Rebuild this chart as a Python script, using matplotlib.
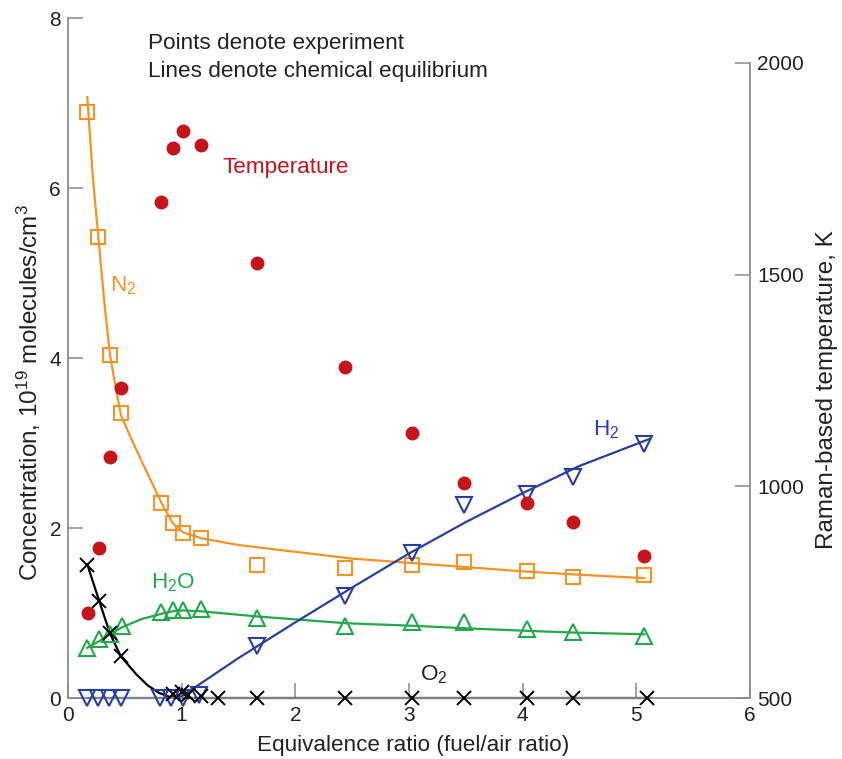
import matplotlib
matplotlib.use("Agg")
import matplotlib.pyplot as plt

plt.rcParams['font.family'] = ['Liberation Sans', 'DejaVu Sans']
plt.rcParams['mathtext.fontset'] = 'custom'
plt.rcParams['mathtext.rm'] = 'Liberation Sans'
plt.rcParams['mathtext.it'] = 'Liberation Sans:italic'
plt.rcParams['mathtext.bf'] = 'Liberation Sans:bold'

# ---- data ----
# N2 experiment (squares) and equilibrium line
n2_x = [0.17, 0.267, 0.369, 0.465, 0.82, 0.92, 1.01, 1.17, 1.66, 2.44, 3.03, 3.48, 4.04, 4.44, 5.07]
n2_y = [6.90, 5.42, 4.04, 3.35, 2.30, 2.06, 1.94, 1.88, 1.57, 1.53, 1.57, 1.60, 1.50, 1.42, 1.45]
n2_line_x = [0.17, 0.22, 0.267, 0.32, 0.369, 0.42, 0.465, 0.55, 0.65, 0.75, 0.82, 0.92, 1.01, 1.17, 1.5, 2.0, 2.5, 3.0, 3.5, 4.0, 4.5, 5.07]
n2_line_y = [7.07, 6.10, 5.42, 4.65, 4.04, 3.65, 3.33, 3.07, 2.78, 2.50, 2.30, 2.06, 1.95, 1.88, 1.80, 1.72, 1.64, 1.59, 1.54, 1.49, 1.45, 1.41]

# H2O experiment (up triangles) and equilibrium line
h2o_x = [0.17, 0.275, 0.369, 0.472, 0.82, 0.92, 1.01, 1.17, 1.66, 2.44, 3.03, 3.48, 4.04, 4.44, 5.07]
h2o_y = [0.59, 0.69, 0.755, 0.85, 1.01, 1.03, 1.04, 1.05, 0.94, 0.85, 0.90, 0.90, 0.81, 0.78, 0.73]
h2o_line_x = [0.17, 0.275, 0.369, 0.472, 0.65, 0.82, 0.92, 1.01, 1.17, 1.66, 2.44, 3.03, 3.5, 4.04, 4.44, 5.07]
h2o_line_y = [0.59, 0.67, 0.75, 0.83, 0.93, 0.99, 1.02, 1.03, 1.02, 0.96, 0.88, 0.85, 0.82, 0.79, 0.77, 0.75]

# H2 experiment (down triangles) and equilibrium line
h2_x = [0.17, 0.267, 0.363, 0.463, 0.81, 0.91, 1.01, 1.155, 1.66, 2.44, 3.03, 3.48, 4.04, 4.44, 5.07]
h2_y = [0.0, 0.0, 0.0, 0.0, 0.0, 0.0, 0.0, 0.03, 0.61, 1.20, 1.71, 2.27, 2.40, 2.60, 2.99]
h2_line_x = [0.17, 0.5, 0.9, 1.0, 1.5, 2.0, 2.5, 3.0, 3.5, 4.0, 4.5, 5.12]
h2_line_y = [0.0, 0.0, 0.0, 0.02, 0.47, 0.89, 1.30, 1.70, 2.07, 2.41, 2.73, 3.05]

# O2 experiment (crosses) and equilibrium line
o2_x = [0.17, 0.275, 0.369, 0.465, 0.92, 1.0, 1.06, 1.17, 1.32, 1.66, 2.44, 3.03, 3.48, 4.04, 4.44, 5.09]
o2_y = [1.57, 1.14, 0.76, 0.49, 0.05, 0.07, 0.03, 0.02, 0.0, 0.0, 0.0, 0.0, 0.0, 0.0, 0.0, 0.0]
o2_line_x = [0.17, 0.275, 0.369, 0.465, 0.6, 0.7, 0.8, 0.9, 1.0, 2.0, 3.0, 4.0, 5.12]
o2_line_y = [1.57, 1.14, 0.76, 0.49, 0.28, 0.15, 0.06, 0.01, 0.0, 0.0, 0.0, 0.0, 0.0]

# Temperature experiment (right axis, K)
t_x = [0.179, 0.275, 0.369, 0.466, 0.815, 0.92, 1.01, 1.17, 1.665, 2.44, 3.03, 3.48, 4.04, 4.44, 5.07]
t_y = [700, 854, 1070, 1231, 1672, 1798, 1838, 1806, 1528, 1281, 1125, 1007, 961, 916, 835]

x_ticks = [0, 1, 2, 3, 4, 5, 6]
y_ticks = [0, 2, 4, 6, 8]
t_ticks = [500, 1000, 1500, 2000]

ORANGE = '#F39325'
GREEN = '#22A84A'
BLUE = '#2A3F9D'
RED = '#C4141C'
SPINE = '#8C8C8C'
TXT = '#222222'

W, H = 842, 759
fig = plt.figure(figsize=(W / 100, H / 100), dpi=100)
ax = fig.add_axes([68 / W, 61 / H, 682 / W, 680 / H])
ax2 = ax.twinx()

fs = 15      # tick labels
fsa = 16.2   # annotations
fsl = 17.5   # rotated axis labels
lw = 1.6

# lines
ax.plot(n2_line_x, n2_line_y, color=ORANGE, lw=lw, zorder=2, clip_on=False)
ax.plot(h2o_line_x, h2o_line_y, color=GREEN, lw=lw, zorder=2, clip_on=False)
ax.plot(h2_line_x, h2_line_y, color=BLUE, lw=lw, zorder=2, clip_on=False)
ax.plot(o2_line_x, o2_line_y, color='black', lw=lw, zorder=2, clip_on=False)

# points
ax.plot(n2_x, n2_y, ls='none', marker='s', ms=10.5, mfc='none', mec=ORANGE, mew=1.5, zorder=3, clip_on=False)
ax.plot(h2o_x, h2o_y, ls='none', marker='^', ms=11, mfc='none', mec=GREEN, mew=1.5, zorder=3, clip_on=False)
ax.plot(h2_x, h2_y, ls='none', marker='v', ms=11, mfc='none', mec=BLUE, mew=1.5, zorder=3, clip_on=False)
ax.plot(o2_x, o2_y, ls='none', marker='x', ms=10, mec='black', mew=1.4, zorder=3, clip_on=False)
ax2.plot(t_x, t_y, ls='none', marker='o', ms=9, mfc=RED, mec=RED, zorder=3, clip_on=False)

# axes limits / spines
ax.set_xlim(0, 6)
ax.set_ylim(0, 8)
ax2.set_ylim(500, 2106)
for a in (ax, ax2):
    a.spines['top'].set_visible(False)
    a.patch.set_visible(False)
ax.spines['right'].set_visible(False)
ax2.spines['left'].set_visible(False)
ax2.spines['bottom'].set_visible(False)
ax2.spines['right'].set_bounds(500, 2000)
for s in ('left', 'bottom'):
    ax.spines[s].set_color(SPINE)
    ax.spines[s].set_linewidth(1.3)
ax2.spines['right'].set_color(SPINE)
ax2.spines['right'].set_linewidth(1.3)

ax.set_xticks(x_ticks)
ax.set_xticklabels([str(v) for v in x_ticks])
ax.set_yticks(y_ticks)
ax.set_yticklabels([str(v) for v in y_ticks])
ax2.set_yticks(t_ticks)
ax2.set_yticklabels([str(v) for v in t_ticks])

ax.tick_params(axis='both', direction='in', length=11, width=1.1, color=SPINE,
               labelsize=fs, labelcolor=TXT, pad=5)
ax.tick_params(axis='x', pad=6)
ax2.tick_params(axis='y', direction='in', length=11, width=1.1, color=SPINE,
                labelsize=fs, labelcolor=TXT, pad=5)

# axis labels (placed in figure pixels)
fig.text(413 / W, 1 - 745 / H, 'Equivalence ratio (fuel/air ratio)', fontsize=fsa,
         color=TXT, ha='center', va='center')
fig.text(29 / W, 1 - 392 / H, r'Concentration, 10$^{\mathrm{19}}$ molecules/cm$^{\mathrm{3}}$',
         fontsize=fsl, color=TXT, ha='center', va='center', rotation=90)
fig.text(827 / W, 1 - 390 / H, 'Raman-based temperature, K', fontsize=fsl,
         color=TXT, ha='center', va='center', rotation=90)

# annotations
ax.text(0.7, 7.7, 'Points denote experiment', fontsize=fsa, color=TXT, va='center')
ax.text(0.7, 7.37, 'Lines denote chemical equilibrium', fontsize=fsa, color=TXT, va='center')
ax2.text(1.36, 1752, 'Temperature', fontsize=fsa, color=RED, va='center')
ax.text(0.37, 4.85, r'N$_{\mathrm{2}}$', fontsize=fsa, color=ORANGE, va='center')
ax.text(0.73, 1.36, r'H$_{\mathrm{2}}$O', fontsize=fsa, color=GREEN, va='center')
ax.text(4.62, 3.16, r'H$_{\mathrm{2}}$', fontsize=fsa, color=BLUE, va='center')
ax.text(3.1, 0.28, r'O$_{\mathrm{2}}$', fontsize=fsa, color=TXT, va='center')

fig.savefig('out.png', dpi=100)
